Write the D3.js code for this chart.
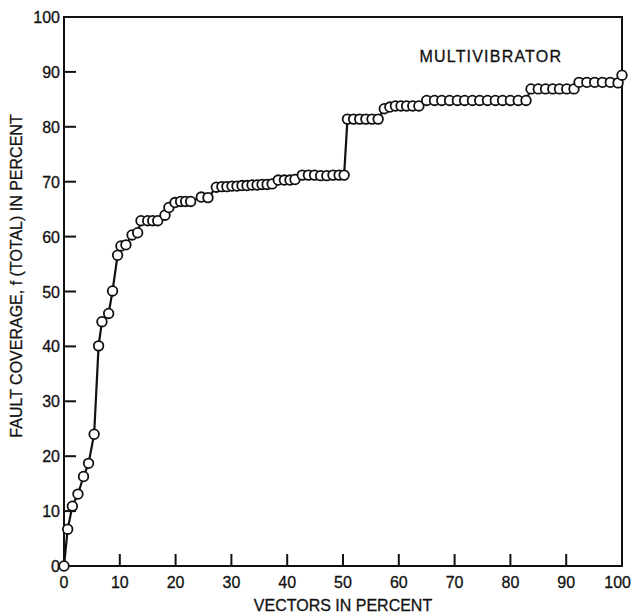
<!DOCTYPE html>
<html>
<head>
<meta charset="utf-8">
<script src="https://d3js.org/d3.v7.min.js"></script>
<style>
  html, body { margin: 0; padding: 0; background: #fff; }
  svg { display: block; }
  text { font-family: "Liberation Sans", Arial, sans-serif; fill: #111; stroke: #111; stroke-width: 0.3px; }
</style>
</head>
<body>
<svg id="chart" width="632" height="614"></svg>
<script>
// ── 数据 ────────────────────────────────────────────
const vectorsPct = [
  0, 0.66, 1.5, 2.5, 3.5, 4.4, 5.4, 6.2, 6.8, 8.0, 8.7, 9.6, 10.2, 11.1, 12.2, 13.2,
  13.8, 15.0, 15.9, 16.8, 18.1, 18.8, 19.9, 20.9, 21.8, 22.7, 24.6, 25.8,
  27.3, 28.3, 29.2, 30.1, 31.0, 31.9, 32.8, 33.7, 34.6, 35.5, 36.4, 37.3,
  38.4, 39.5, 40.5, 41.4,
  42.7, 43.8, 44.9, 46.0, 47.1, 48.2, 49.3, 50.2,
  50.8, 51.9, 53.0, 54.1, 55.2, 56.3,
  57.4, 58.4, 59.4, 60.4, 61.4, 62.5, 63.6,
  65.0, 66.4, 67.7, 69.1, 70.5, 71.8, 73.2, 74.5, 75.9, 77.3, 78.6, 80.0, 81.4, 82.8,
  83.7, 85.0, 86.3, 87.6, 88.8, 90.1, 91.4,
  92.3, 93.7, 95.1, 96.5, 97.9, 99.3,
  100
];
const coveragePct = [
  0, 6.7, 10.9, 13.1, 16.3, 18.7, 24.0, 40.1, 44.5, 46.0, 50.1, 56.6, 58.3, 58.5, 60.3, 60.7,
  62.9, 62.9, 62.9, 62.9, 63.9, 65.3, 66.2, 66.4, 66.4, 66.4, 67.2, 67.1,
  69.0, 69.1, 69.1, 69.2, 69.2, 69.3, 69.3, 69.4, 69.4, 69.5, 69.5, 69.6,
  70.3, 70.3, 70.3, 70.4,
  71.2, 71.2, 71.2, 71.1, 71.1, 71.2, 71.2, 71.2,
  81.4, 81.4, 81.4, 81.4, 81.4, 81.4,
  83.3, 83.6, 83.8, 83.8, 83.8, 83.8, 83.8,
  84.8, 84.8, 84.8, 84.8, 84.8, 84.8, 84.8, 84.8, 84.8, 84.8, 84.8, 84.8, 84.8, 84.8,
  86.9, 86.9, 86.9, 86.9, 86.9, 86.9, 86.9,
  88.1, 88.1, 88.1, 88.1, 88.1, 88.0,
  89.4
];
const xTicks = [0, 10, 20, 30, 40, 50, 60, 70, 80, 90, 100];
const yTicks = [0, 10, 20, 30, 40, 50, 60, 70, 80, 90, 100];
const curveLabel = "MULTIVIBRATOR";
const xTitle = "VECTORS IN PERCENT";
const yTitle = "FAULT COVERAGE, f (TOTAL) IN PERCENT";

const points = vectorsPct.map((v, i) => ({ x: v, y: coveragePct[i] }));

// ── 画布 ────────────────────────────────────────────
const svg = d3.select("#chart");
const plotL = 64, plotR = 622, plotT = 17, plotB = 566;

const x = d3.scaleLinear().domain([0, 100]).range([plotL, plotR]);
const y = d3.scaleLinear().domain([0, 100]).range([plotB, plotT]);

// 边框
svg.append("rect")
    .attr("x", plotL).attr("y", plotT)
    .attr("width", plotR - plotL).attr("height", plotB - plotT)
    .attr("fill", "none")
    .attr("stroke", "#111")
    .attr("stroke-width", 2);

// 内侧刻度线
svg.append("g").selectAll("line")
    .data(xTicks.filter(t => t > 0 && t < 100))
    .join("line")
    .attr("x1", d => x(d)).attr("x2", d => x(d))
    .attr("y1", plotB).attr("y2", plotB - 12)
    .attr("stroke", "#111").attr("stroke-width", 2);

svg.append("g").selectAll("line")
    .data(yTicks.filter(t => t > 0 && t < 100))
    .join("line")
    .attr("x1", plotL).attr("x2", plotL + 12)
    .attr("y1", d => y(d)).attr("y2", d => y(d))
    .attr("stroke", "#111").attr("stroke-width", 2);

// 刻度标签（最右的 100 贴边，右对齐）
svg.append("g").selectAll("text")
    .data(xTicks)
    .join("text")
    .attr("x", d => d === 100 ? 631 : x(d))
    .attr("y", plotB + 22)
    .attr("text-anchor", d => d === 100 ? "end" : "middle")
    .attr("font-size", "16px")
    .text(d => d);

svg.append("g").selectAll("text")
    .data(yTicks)
    .join("text")
    .attr("x", plotL - 4)
    .attr("y", d => y(d) + 6)
    .attr("text-anchor", "end")
    .attr("font-size", "16px")
    .text(d => d);

// 轴标题
svg.append("text")
    .attr("x", (plotL + plotR) / 2)
    .attr("y", 611)
    .attr("text-anchor", "middle")
    .attr("font-size", "16px")
    .text(xTitle);

svg.append("text")
    .attr("transform", "translate(22,276) rotate(-90)")
    .attr("text-anchor", "middle")
    .attr("font-size", "16px")
    .text(yTitle);

svg.append("text")
    .attr("x", x(63.7))
    .attr("y", y(91.8))
    .attr("font-size", "16px")
    .attr("letter-spacing", "1.2px")
    .text(curveLabel);

// ── 曲线 + 圆点 ─────────────────────────────────────
const line = d3.line().x(d => x(d.x)).y(d => y(d.y));

svg.append("path")
    .datum(points)
    .attr("d", line)
    .attr("fill", "none")
    .attr("stroke", "#111")
    .attr("stroke-width", 2.2);

svg.append("g").selectAll("circle")
    .data(points)
    .join("circle")
    .attr("cx", d => x(d.x))
    .attr("cy", d => y(d.y))
    .attr("r", 4.8)
    .attr("fill", "#fff")
    .attr("stroke", "#111")
    .attr("stroke-width", 1.8);
</script>
</body>
</html>
